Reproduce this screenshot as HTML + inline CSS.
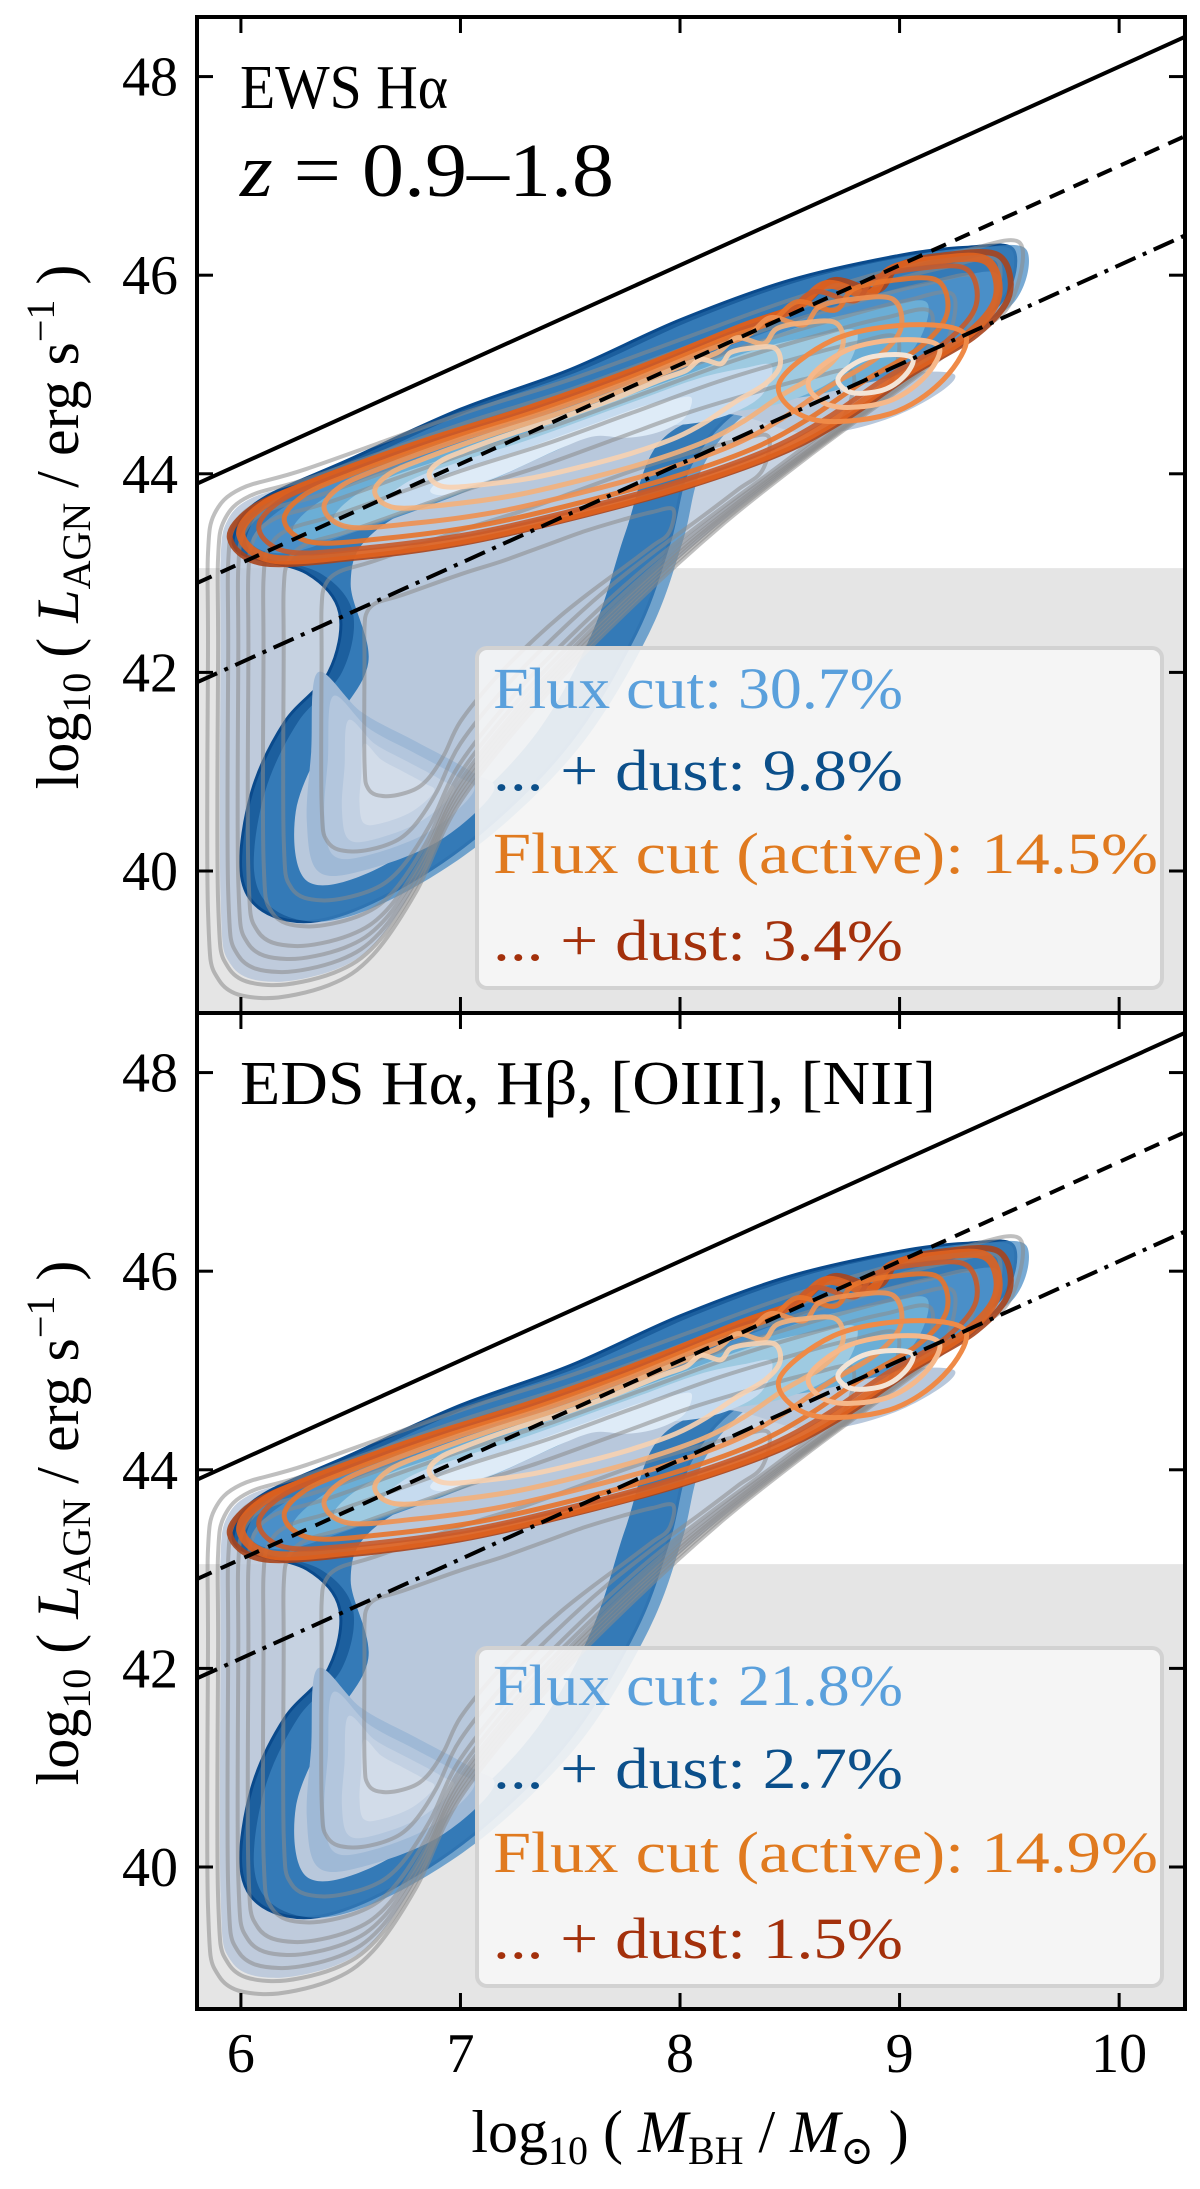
<!DOCTYPE html>
<html><head><meta charset="utf-8">
<style>
html,body{margin:0;padding:0;background:#fff;}
svg{display:block;}
text{font-family:"Liberation Serif","DejaVu Serif",serif;fill:#000;}
</style></head>
<body>
<svg id="fig" width="1200" height="2189" viewBox="0 0 1200 2189" xmlns="http://www.w3.org/2000/svg"></svg>
<script>
// ---- axis data ----
const xTicks = [6, 7, 8, 9, 10];
const yTicks = [40, 42, 44, 46, 48];
const xLim = [5.8, 10.3];
const yLim = [38.57, 48.6];
const fluxLimit = 43.05;
const lineOffsets = [38.1, 37.1, 36.1]; // L = M + offset (solid, dashed, dash-dot)
const panelTitles = ["EWS Hα", "EDS Hα, Hβ, [OIII], [NII]"];
const legendTexts1 = ["Flux cut: 30.7%", "... + dust: 9.8%", "Flux cut (active): 14.5%", "... + dust: 3.4%"];
const legendTexts2 = ["Flux cut: 21.8%", "... + dust: 2.7%", "Flux cut (active): 14.9%", "... + dust: 1.5%"];
// ---- contour data (log M, log L) ----
const grayOuter = [[5.85,43.2],[5.88,43.6],[6.0,43.85],[6.3,44.05],[7.0,44.6],[7.5,44.95],[8.0,45.35],[8.5,45.75],[9.0,46.08],[9.3,46.25],[9.55,46.32],[9.5,45.7],[9.3,45.35],[9.0,44.85],[8.6,44.2],[8.2,43.5],[7.8,42.7],[7.4,41.8],[7.0,40.7],[6.8,39.8],[6.6,39.15],[6.4,38.85],[6.1,38.72],[5.9,38.9],[5.85,39.6],[5.85,42.3]];
const grayCenter = [7.0, 42.0];
const grayScales = [1.0, 0.96, 0.92, 0.88, 0.84, 0.78, 0.7, 0.55, 0.38];
const blueBand = [[5.98,43.45],[6.0,43.2],[6.3,43.0],[6.45,42.6],[6.4,42.0],[6.2,41.5],[6.05,40.8],[6.0,40.0],[6.1,39.6],[6.35,39.5],[6.7,39.8],[7.1,40.4],[7.5,41.3],[7.8,42.4],[7.95,43.3],[8.05,44.1],[8.3,44.7],[8.7,45.0],[9.1,45.3],[9.45,45.7],[9.52,46.25],[9.3,46.28],[9.0,46.2],[8.5,45.95],[8.0,45.55],[7.5,45.05],[7.0,44.65],[6.5,44.15],[6.1,43.75]];
const blueHole = [[6.5,42.9],[6.58,42.1],[6.4,41.4],[6.25,40.6],[6.3,39.9],[6.6,40.0],[7.0,40.6],[7.35,41.4],[7.6,42.4],[7.75,43.4],[7.9,44.3],[8.2,44.6],[8.6,44.4],[9.0,44.6],[9.25,45.0],[8.8,45.0],[8.3,45.0],[7.9,44.8],[7.5,44.4],[7.0,43.9],[6.6,43.4]];
const lowerLobe = [[6.35,42.0],[6.55,41.6],[6.8,41.3],[7.05,41.0],[7.15,40.8],[6.9,40.3],[6.55,40.0],[6.35,40.0],[6.3,40.5],[6.32,41.2]];
const lobeCenter = [6.7, 40.8];
const lobeScales = [1.0, 0.8, 0.6, 0.4];
const ridge = [[6.05,43.35],[6.3,43.8],[6.8,44.2],[7.3,44.55],[7.8,44.95],[8.3,45.35],[8.8,45.75],[9.2,45.95],[9.45,46.0],[9.35,45.4],[9.0,45.0],[8.6,44.85],[8.2,44.9],[7.8,44.6],[7.4,44.2],[7.0,43.8],[6.5,43.4],[6.2,43.2]];
const ridgeCenter = [7.3, 44.1];
const ridgeScales = [1.0, 0.85, 0.7, 0.52, 0.35];
const orangeOuter = [[5.95,43.35],[6.05,43.65],[6.3,43.9],[6.8,44.3],[7.3,44.65],[7.8,45.05],[8.3,45.5],[8.55,45.7],[8.7,45.95],[8.9,45.85],[9.0,46.1],[9.2,46.2],[9.45,46.2],[9.5,45.8],[9.35,45.4],[9.05,45.0],[8.75,44.55],[8.45,44.2],[8.0,43.85],[7.5,43.55],[7.0,43.3],[6.5,43.15],[6.1,43.1]];
const orangeCenter = [7.6, 44.5];
const orangeScales = [1.0, 0.97, 0.92, 0.85, 0.74, 0.6, 0.45];
const lobeB = [[8.45,44.9],[8.7,45.35],[9.05,45.5],[9.3,45.4],[9.2,44.95],[8.95,44.6],[8.6,44.55]];
const lobeBCenter = [8.9, 45.0];
const lobeBScales = [1.0, 0.7, 0.4];

const grayColors = "#8a8a8a";
const blueCols = ["#9fb9d6","#b3c6dd","#c3d1e3","#d2dce9"];
const ridgeCols = ["#4a8fc8","#6baed6","#9ecae1","#c6dbef","#deebf7"];
const orangeCols = ["#a8441c","#e0621e","#c85a2a","#e8732a","#f09050","#f4b07a","#f8d2b0"];
const orangeW = [6, 9, 5, 5, 5, 5, 5];
const lobeBCols = ["#ef8a47","#f6b88a","#f3e4d6"];

const svg = document.getElementById('fig');
const NS = "http://www.w3.org/2000/svg";
const AX_L = 197, AX_R = 1185, PH = 996;
const panelTops = [17, 1013];
function X(v){ return AX_L + (v - xLim[0]) * (AX_R - AX_L) / (xLim[1] - xLim[0]); }
function mkY(top){ return v => top + (yLim[1] - v) * PH / (yLim[1] - yLim[0]); }
function el(tag, attrs, parent){ const e = document.createElementNS(NS, tag); for (const k in attrs) e.setAttribute(k, attrs[k]); (parent||svg).appendChild(e); return e; }
function scaled(pts, c, s){ return pts.map(p => [c[0] + (p[0]-c[0])*s, c[1] + (p[1]-c[1])*s]); }
function smoothPath(pts, Y){
  const P = pts.map(p => [X(p[0]), Y(p[1])]); const n = P.length;
  let d = `M${P[0][0].toFixed(1)},${P[0][1].toFixed(1)}`;
  for (let i = 0; i < n; i++){
    const p0 = P[(i-1+n)%n], p1 = P[i], p2 = P[(i+1)%n], p3 = P[(i+2)%n];
    const c1 = [p1[0]+(p2[0]-p0[0])/6, p1[1]+(p2[1]-p0[1])/6];
    const c2 = [p2[0]-(p3[0]-p1[0])/6, p2[1]-(p3[1]-p1[1])/6];
    d += ` C${c1[0].toFixed(1)},${c1[1].toFixed(1)} ${c2[0].toFixed(1)},${c2[1].toFixed(1)} ${p2[0].toFixed(1)},${p2[1].toFixed(1)}`;
  }
  return d + 'Z';
}

function drawPanel(pi){
  const top = panelTops[pi]; const Y = mkY(top);
  const g = el('g', {}, svg);
  
  
  const cid = 'clip' + pi;
  const defs = el('defs', {}, g);
  const cp = el('clipPath', {id: cid}, defs);
  el('rect', {x: AX_L, y: top, width: AX_R-AX_L, height: PH}, cp);
  const pg = el('g', {'clip-path': `url(#${cid})`}, g);
  const shade = el('rect', {x: AX_L, y: Y(fluxLimit), width: AX_R-AX_L, height: top+PH-Y(fluxLimit), fill: '#e5e5e5'}, pg);
  
  
  const base = el('path', {d: smoothPath(scaled(grayOuter, grayCenter, 0.95), Y), fill: '#b8c7da', 'fill-opacity': 0.85}, pg);
  
  
  el('path', {d: smoothPath(scaled(grayOuter, grayCenter, 0.7), Y), fill: '#c9d4e2', 'fill-opacity': 0.7}, pg);
  const bb = el('path', {d: smoothPath(blueBand, Y), fill: '#1c5f9e', stroke: '#0a4a8c', 'stroke-width': 3}, pg);
  
  
  el('path', {d: smoothPath(blueBand.map(p=>[p[0]+0.06,p[1]]), Y), fill: '#3f86c2', 'fill-opacity': 0.7}, pg);
  el('path', {d: smoothPath(blueHole, Y), fill: '#b8c8dc'}, pg);
  lobeScales.forEach((s,i) => { el('path', {d: smoothPath(scaled(lowerLobe, lobeCenter, s), Y), fill: blueCols[i]}, pg); });
  ridgeScales.forEach((s,i) => { el('path', {d: smoothPath(scaled(ridge, ridgeCenter, s), Y), fill: ridgeCols[i]}, pg); });
  grayScales.forEach((s,i) => {
    const p = el('path', {d: smoothPath(scaled(grayOuter, grayCenter, s), Y), fill: 'none', stroke: grayColors, 'stroke-opacity': 0.55, 'stroke-width': 4}, pg);
    
    
  });
  orangeScales.forEach((s,i) => {
    const p = el('path', {d: smoothPath(scaled(orangeOuter, orangeCenter, s), Y), fill: 'none', stroke: orangeCols[i], 'stroke-opacity': 0.9, 'stroke-width': orangeW[i]}, pg);
    
    
  });
  lobeBScales.forEach((s,i) => { el('path', {d: smoothPath(scaled(lobeB, lobeBCenter, s), Y), fill: 'none', stroke: lobeBCols[i], 'stroke-width': 5}, pg); });
  const dashes = ['none', '16,10', '22,8,4,8'];
  const lnames = ['eddington-line', 'ten-percent-eddington-line', 'one-percent-eddington-line'];
  lineOffsets.forEach((o,i) => {
    const l = el('line', {x1: X(xLim[0]), y1: Y(xLim[0]+o), x2: X(xLim[1]), y2: Y(xLim[1]+o), stroke: '#000', 'stroke-width': 4, 'stroke-dasharray': dashes[i]}, pg);
    
    
  });
  const lb = pi===0 ? {y: 648, h: 340, base: [708,790,873,960]} : {y: 1648, h: 338, base: [1705,1788,1872,1958]};
  const box = el('rect', {x: 477, y: lb.y, width: 685, height: lb.h, rx: 10, fill: '#f6f6f6', 'fill-opacity': 0.9, stroke: '#d2d2d2', 'stroke-width': 4}, g);
  
  
  const texts = pi===0 ? legendTexts1 : legendTexts2;
  const tcols = ['#5aa0dc', '#0b4f8a', '#e07a1f', '#a3300b'];
  const widths = [410, 410, 665, 410];
  texts.forEach((t,i) => {
    const tx = el('text', {x: 493, y: lb.base[i], 'font-size': 58, fill: tcols[i], textLength: widths[i], lengthAdjust: 'spacingAndGlyphs'}, g);
    tx.setAttribute('style', 'fill:' + tcols[i]);
    tx.textContent = t;
    
    
  });
  const fr = el('rect', {x: AX_L, y: top, width: AX_R-AX_L, height: PH, fill: 'none', stroke: '#000', 'stroke-width': 4}, g);
  
  
  xTicks.forEach(v => {
    el('line', {x1: X(v), x2: X(v), y1: top+PH, y2: top+PH-16, stroke: '#000', 'stroke-width': 3}, g);
    el('line', {x1: X(v), x2: X(v), y1: top, y2: top+16, stroke: '#000', 'stroke-width': 3}, g);
  });
  yTicks.forEach(v => {
    el('line', {x1: AX_L, x2: AX_L+16, y1: Y(v), y2: Y(v), stroke: '#000', 'stroke-width': 3}, g);
    el('line', {x1: AX_R, x2: AX_R-16, y1: Y(v), y2: Y(v), stroke: '#000', 'stroke-width': 3}, g);
    const tl = el('text', {x: 178, y: Y(v)+19, 'font-size': 56, 'text-anchor': 'end'}, g);
    tl.textContent = v;
    
    
  });
  const yt = el('text', {x: 0, y: 0, 'font-size': 60, 'text-anchor': 'middle', transform: `translate(78,${top+PH/2+12}) rotate(-90)`}, g);
  yt.innerHTML = 'log<tspan font-size="40" dy="12">10</tspan><tspan dy="-12"> ( </tspan><tspan font-style="italic">L</tspan><tspan font-size="40" dy="12">AGN</tspan><tspan dy="-12"> / erg s</tspan><tspan font-size="40" dy="-24">−1</tspan><tspan dy="24"> )</tspan>';
  
  
  const pt = el('text', {x: 240, y: top+91, 'font-size': 62, textLength: pi===0 ? 208 : 696, lengthAdjust: 'spacingAndGlyphs'}, g);
  pt.textContent = panelTitles[pi];
  
  
  if (pi === 0){
    const zt = el('text', {x: 240, y: 196, 'font-size': 76, textLength: 374, lengthAdjust: 'spacingAndGlyphs'}, g);
    zt.innerHTML = '<tspan font-style="italic">z</tspan> = 0.9–1.8';
    
    
  }
}
drawPanel(0);
drawPanel(1);
xTicks.forEach(v => {
  const t = el('text', {x: X(v), y: 2072, 'font-size': 56, 'text-anchor': 'middle'}, svg);
  t.textContent = v;
  
  
});
const xt = el('text', {x: 690, y: 2152, 'font-size': 60, 'text-anchor': 'middle'}, svg);
xt.innerHTML = 'log<tspan font-size="40" dy="12">10</tspan><tspan dy="-12"> ( </tspan><tspan font-style="italic">M</tspan><tspan font-size="40" dy="12">BH</tspan><tspan dy="-12"> / </tspan><tspan font-style="italic">M</tspan><tspan font-size="40" dy="12">⊙</tspan><tspan dy="-12"> )</tspan>';


</script>
</body></html>
